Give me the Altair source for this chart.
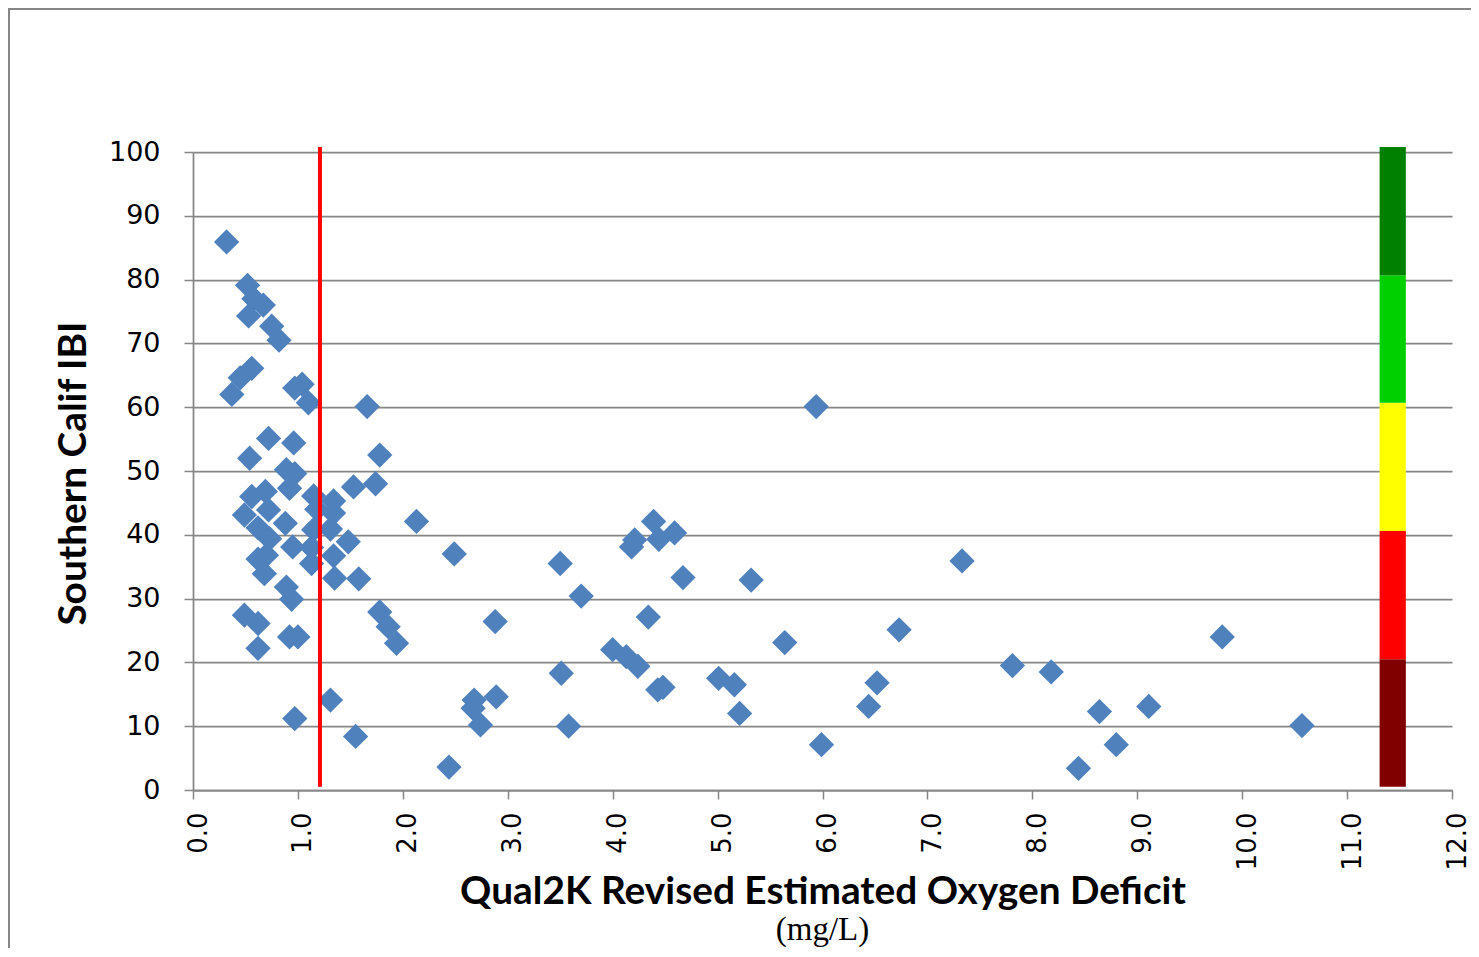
import altair as alt
import pandas as pd

# ---- data ----
deficit = [0.32, 0.52, 0.58, 0.67, 0.53, 0.75, 0.82, 0.56, 0.45, 0.37,
           1.04, 0.97, 1.10, 1.66, 0.72, 0.96, 0.54, 1.78, 0.89, 0.97,
           0.92, 1.53, 1.74, 0.56, 0.69, 1.15, 1.34, 0.49, 0.72, 1.18,
           1.34, 0.88, 0.62, 1.15, 1.31, 2.13, 0.73, 0.95, 1.48, 1.13,
           0.62, 0.70, 1.13, 1.34, 0.68, 1.35, 1.58, 0.89, 0.94, 0.49,
           0.62, 0.62, 0.92, 1.00, 1.78, 1.86, 1.94, 1.31, 0.97, 1.55,
           2.49, 5.94, 3.50, 3.70, 2.88, 4.39, 4.21, 4.18, 4.44, 4.59,
           4.67, 5.32, 4.34, 3.51, 4.00, 4.13, 4.24, 5.64, 5.01, 5.16,
           5.21, 4.43, 4.48, 2.68, 2.67, 2.89, 2.74, 3.58, 2.44, 5.99,
           7.33, 6.73, 6.52, 6.44, 7.81, 8.18, 8.64, 8.80, 8.44, 9.11,
           9.81, 10.57]
ibi = [85.9, 79.1, 77.0, 76.0, 74.3, 72.7, 70.5, 66.1, 64.6, 62.0,
       63.6, 63.0, 60.7, 60.1, 55.1, 54.4, 52.0, 52.5, 50.2, 49.6,
       47.3, 47.5, 48.0, 46.0, 46.8, 46.1, 45.3, 43.1, 43.9, 44.0,
       43.4, 41.8, 41.1, 40.8, 40.9, 42.1, 39.4, 38.1, 38.9, 38.0,
       36.2, 36.8, 35.5, 36.7, 33.9, 33.2, 33.1, 31.8, 29.9, 27.4,
       26.1, 22.2, 24.0, 24.0, 27.9, 25.6, 23.0, 14.1, 11.2, 8.4,
       37.0, 60.1, 35.5, 30.4, 26.4, 42.1, 39.2, 38.1, 39.3, 40.3,
       33.3, 32.9, 27.1, 18.3, 22.0, 20.9, 19.4, 23.1, 17.5, 16.5,
       12.0, 15.7, 16.1, 14.1, 12.8, 14.6, 10.2, 10.0, 3.6, 7.1,
       35.9, 25.1, 16.8, 13.1, 19.5, 18.5, 12.3, 7.1, 3.4, 13.1,
       24.0, 10.1]

threshold_x = [1.21]
threshold_lo = [0.5]
threshold_hi = [100.8]

band_lo = [0.5, 20.5, 40.6, 60.7, 80.7]
band_hi = [20.5, 40.6, 60.7, 80.7, 100.8]
band_colors = ["#800000", "#FF0000", "#FFFF00", "#00D000", "#008000"]
band_x1 = [11.31] * 5
band_x2 = [11.56] * 5

x_ticks = list(range(0, 13))
y_ticks = list(range(0, 101, 10))

pts = pd.DataFrame({"x": deficit, "y": ibi})
bands = pd.DataFrame({"x1": band_x1, "x2": band_x2, "lo": band_lo,
                      "hi": band_hi, "color": band_colors})
thr = pd.DataFrame({"x": threshold_x, "lo": threshold_lo, "hi": threshold_hi})

GRAY = "#868686"

xscale = alt.Scale(domain=[0, 12], nice=False, zero=False)
yscale = alt.Scale(domain=[0, 100], nice=False)

xaxis = alt.Axis(values=x_ticks, format=".1f", grid=False, labelAngle=270,
                 labelFont="DejaVu Sans", labelFontSize=26, labelColor="black",
                 labelPadding=13, labelOffset=5, tickSize=9, tickColor=GRAY,
                 tickWidth=1.5, domainColor=GRAY, domainWidth=1.75,
                 title="Qual2K Revised Estimated Oxygen Deficit",
                 titleFont="Lato", titleFontWeight="bold", titleFontSize=38.8,
                 titleColor="black", titleX=629.5, titleY=101,
                 titleAlign="center", titleBaseline="middle")
yaxis = alt.Axis(values=y_ticks, grid=True, gridColor=GRAY, gridWidth=1.75,
                 labelFont="DejaVu Sans", labelFontSize=27, labelColor="black",
                 labelPadding=24, tickSize=9, tickColor=GRAY, tickWidth=1.5,
                 domainColor=GRAY, domainWidth=1.75,
                 title="Southern Calif IBI", titleFont="Lato",
                 titleFontWeight="bold", titleFontSize=38.8, titleColor="black",
                 titleAngle=270, titleX=-120, titleY=321, titleAlign="center",
                 titleBaseline="middle")

band_layer = alt.Chart(bands).mark_rect().encode(
    x=alt.X("x1:Q", scale=xscale, axis=xaxis),
    x2="x2:Q",
    y=alt.Y("lo:Q", scale=yscale, axis=yaxis),
    y2="hi:Q",
    color=alt.Color("color:N", scale=None),
)

point_layer = alt.Chart(pts).mark_point(
    shape="diamond", filled=True, size=640, color="#4F81BD", opacity=1
).encode(
    x=alt.X("x:Q", scale=xscale),
    y=alt.Y("y:Q", scale=yscale),
)

rule_layer = alt.Chart(thr).mark_rule(color="#FF0000", strokeWidth=4).encode(
    x=alt.X("x:Q", scale=xscale),
    y=alt.Y("lo:Q", scale=yscale),
    y2="hi:Q",
)

unit_layer = alt.Chart(pd.DataFrame({"t": ["(mg/L)"]})).mark_text(
    font="Liberation Serif", fontSize=33, color="black",
    align="center", baseline="middle"
).encode(
    text="t:N",
    x=alt.value(629.5),
    y=alt.value(778),
)

frame_layer = alt.Chart(pd.DataFrame({"t": [0]})).mark_rect(
    fill="transparent", stroke=GRAY, strokeWidth=2
).encode(
    x=alt.value(-184), x2=alt.value(2400),
    y=alt.value(-143), y2=alt.value(2400),
)

chart = alt.layer(
    band_layer, point_layer, rule_layer, unit_layer, frame_layer
).properties(
    width=1259, height=638,
    autosize=alt.AutoSizeParams(type="none"),
    padding={"left": 185, "top": 144, "right": 19, "bottom": 158},
    background="white",
).configure_view(strokeWidth=0)

chart.save("out.html", embed_options={"renderer": "svg", "actions": False})
